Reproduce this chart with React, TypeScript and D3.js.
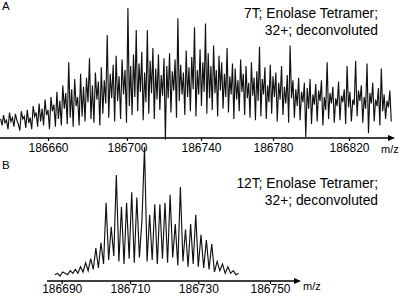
import React, { useEffect, useRef } from "react";
import * as d3 from "d3";

// Panel A: 7T spectrum, evenly sampled from mzStartA in steps of mzStepA
const mzStartA = 186636;
const mzStepA = 0.75;
const intensityA = [
  14, 9, 17, 11, 13, 6, 19, 12, 15, 8,
  18, 13, 10, 5, 20, 14, 16, 7, 21, 11,
  15, 6, 24, 16, 19, 8, 26, 12, 22, 9,
  29, 17, 21, 6, 31, 20, 25, 8, 35, 14,
  28, 9, 40, 22, 34, 10, 58, 15, 37, 8,
  45, 24, 31, 9, 49, 16, 39, 12, 46, 27,
  61, 14, 40, 11, 50, 29, 43, 9, 54, 18,
  44, 26, 79, 15, 49, 30, 56, 12, 63, 28,
  47, 14, 60, 33, 52, 11, 100, 24, 55, 17,
  64, 31, 83, 20, 57, 35, 66, 13, 50, 27,
  83, 18, 59, 34, 69, 14, 53, 29, 64, 21,
  48, 32, 61, -2, 55, 30, 65, 19, 51, 36,
  60, 15, 92, 28, 56, 33, 50, 17, 67, 31,
  54, 20, 62, 37, 85, 16, 52, 33, 68, 24,
  58, 35, 88, 18, 65, 30, 55, 21, 71, 34,
  52, 16, 63, 36, 58, 22, 49, 31, 69, 19,
  47, 33, 57, 14, 53, 29, 44, 20, 60, 35,
  49, 17, 55, 30, 42, 15, 58, 32, 46, 13,
  51, 28, 70, 16, 45, 33, 54, 14, 40, 27,
  56, 18, 47, 31, 50, 12, 42, 29, 55, 17,
  39, 26, 48, 11, 71, 30, 44, 15, 37, 24,
  46, 13, 35, 27, 42, 0, 38, 22, 45, 10,
  33, 25, 41, 12, 36, 28, 44, 9, 31, 21,
  58, 14, 34, 26, 39, 11, 30, 24, 43, 13,
  32, 27, 37, 10, 55, 23, 35, 12, 29, 25,
  59, 16, 36, 28, 40, 11, 31, 22, 57, 3,
  34, 26, 42, 12, 29, 24, 38, 9, 53, 20,
  33, 14, 28, 23, 36, 12,
];

// Panel B: 12T spectrum
const mzStartB = 186688;
const mzStepB = 0.75;
const intensityB = [
  4, 5, 3, 6, 5, 4, 7, 5, 8, 5,
  10, 6, 13, 7, 16, 8, 24, 9, 28, 12,
  58, 15, 40, 18, 79, 14, 55, 12, 58, 16,
  66, 13, 62, 17, 45, 100, 14, 49, 15, 57,
  12, 57, 16, 58, 13, 64, 17, 42, 11, 70,
  14, 38, 10, 42, 12, 49, 10, 34, 9, 30,
  8, 27, 6, 14, 7, 12, 5, 10, 5, 7,
  4, 5,
];

const ticksA = [186660, 186700, 186740, 186780, 186820];
const ticksB = [186690, 186710, 186730, 186750];
const titleA = ["7T; Enolase Tetramer;", "32+; deconvoluted"];
const titleB = ["12T; Enolase Tetramer;", "32+; deconvoluted"];
const axisLabel = "m/z";

const FONT = "'Liberation Sans', Arial, sans-serif";

export default function App() {
  const ref = useRef<SVGSVGElement | null>(null);

  useEffect(() => {
    const svg = d3.select(ref.current);
    svg.selectAll("*").remove();

    const panel = (
      label: string,
      labelY: number,
      title: string[],
      titleY: number,
      mzStart: number,
      mzStep: number,
      values: number[],
      ticks: number[],
      tickPx: number[],
      axisY: number,
      axisX0: number,
      axisX1: number,
      yTop: number,
      tickLabelY: number,
      mzLabelX: number,
      mzLabelY: number
    ) => {
      const g = svg.append("g");
      const x = d3.scaleLinear().domain(ticks).range(tickPx);
      const y = d3.scaleLinear().domain([0, 100]).range([axisY - 1, yTop]);
      const data = values.map((v, i) => ({ mz: mzStart + i * mzStep, v }));
      const line = d3
        .line<{ mz: number; v: number }>()
        .x((d) => x(d.mz))
        .y((d) => y(d.v));
      g.append("path")
        .attr("d", line(data) as string)
        .attr("fill", "none")
        .attr("stroke", "#111")
        .attr("stroke-width", 1.15)
        .attr("stroke-linejoin", "miter");

      // axis line with arrow
      g.append("line")
        .attr("x1", axisX0)
        .attr("x2", axisX1 - 4)
        .attr("y1", axisY)
        .attr("y2", axisY)
        .attr("stroke", "#000")
        .attr("stroke-width", 1.3);
      g.append("path")
        .attr(
          "d",
          `M${axisX1},${axisY} L${axisX1 - 7},${axisY - 3} L${axisX1 - 7},${axisY + 3} Z`
        )
        .attr("fill", "#000");

      const axis = d3
        .axisBottom(x)
        .tickValues(ticks)
        .tickSize(3)
        .tickSizeOuter(0)
        .tickFormat((d) => String(d));
      const ag = g.append("g").attr("transform", `translate(0,${axisY})`).call(axis);
      ag.select(".domain").remove();
      ag.selectAll(".tick line").attr("stroke", "#000").attr("stroke-width", 1.2);
      ag.selectAll(".tick text")
        .attr("y", tickLabelY - axisY)
        .attr("dy", 0)
        .attr("fill", "#000")
        .style("font-family", FONT)
        .style("font-size", "12px");

      g.append("text")
        .attr("x", mzLabelX)
        .attr("y", mzLabelY)
        .style("font-family", FONT)
        .style("font-size", "11px")
        .text(axisLabel);

      g.append("text")
        .attr("x", 2)
        .attr("y", labelY)
        .style("font-family", FONT)
        .style("font-size", "11.5px")
        .text(label);

      title.forEach((t, i) => {
        g.append("text")
          .attr("x", 378)
          .attr("y", titleY + i * 16.5)
          .attr("text-anchor", "end")
          .style("font-family", FONT)
          .style("font-size", "13.8px")
          .text(t);
      });
    };

    panel("A", 10, titleA, 18, mzStartA, mzStepA, intensityA, ticksA,
      [48, 127, 201, 273, 349], 138, 0, 395, 8, 152, 381, 153);
    panel("B", 169, titleB, 188, mzStartB, mzStepB, intensityB, ticksB,
      [61.7, 130, 198.3, 270], 281, 47, 301, 147, 293, 303, 290);
  }, []);

  return (
    <svg
      ref={ref}
      width={400}
      height={296}
      style={{ position: "fixed", left: 0, top: 0, background: "#fff" }}
    />
  );
}
